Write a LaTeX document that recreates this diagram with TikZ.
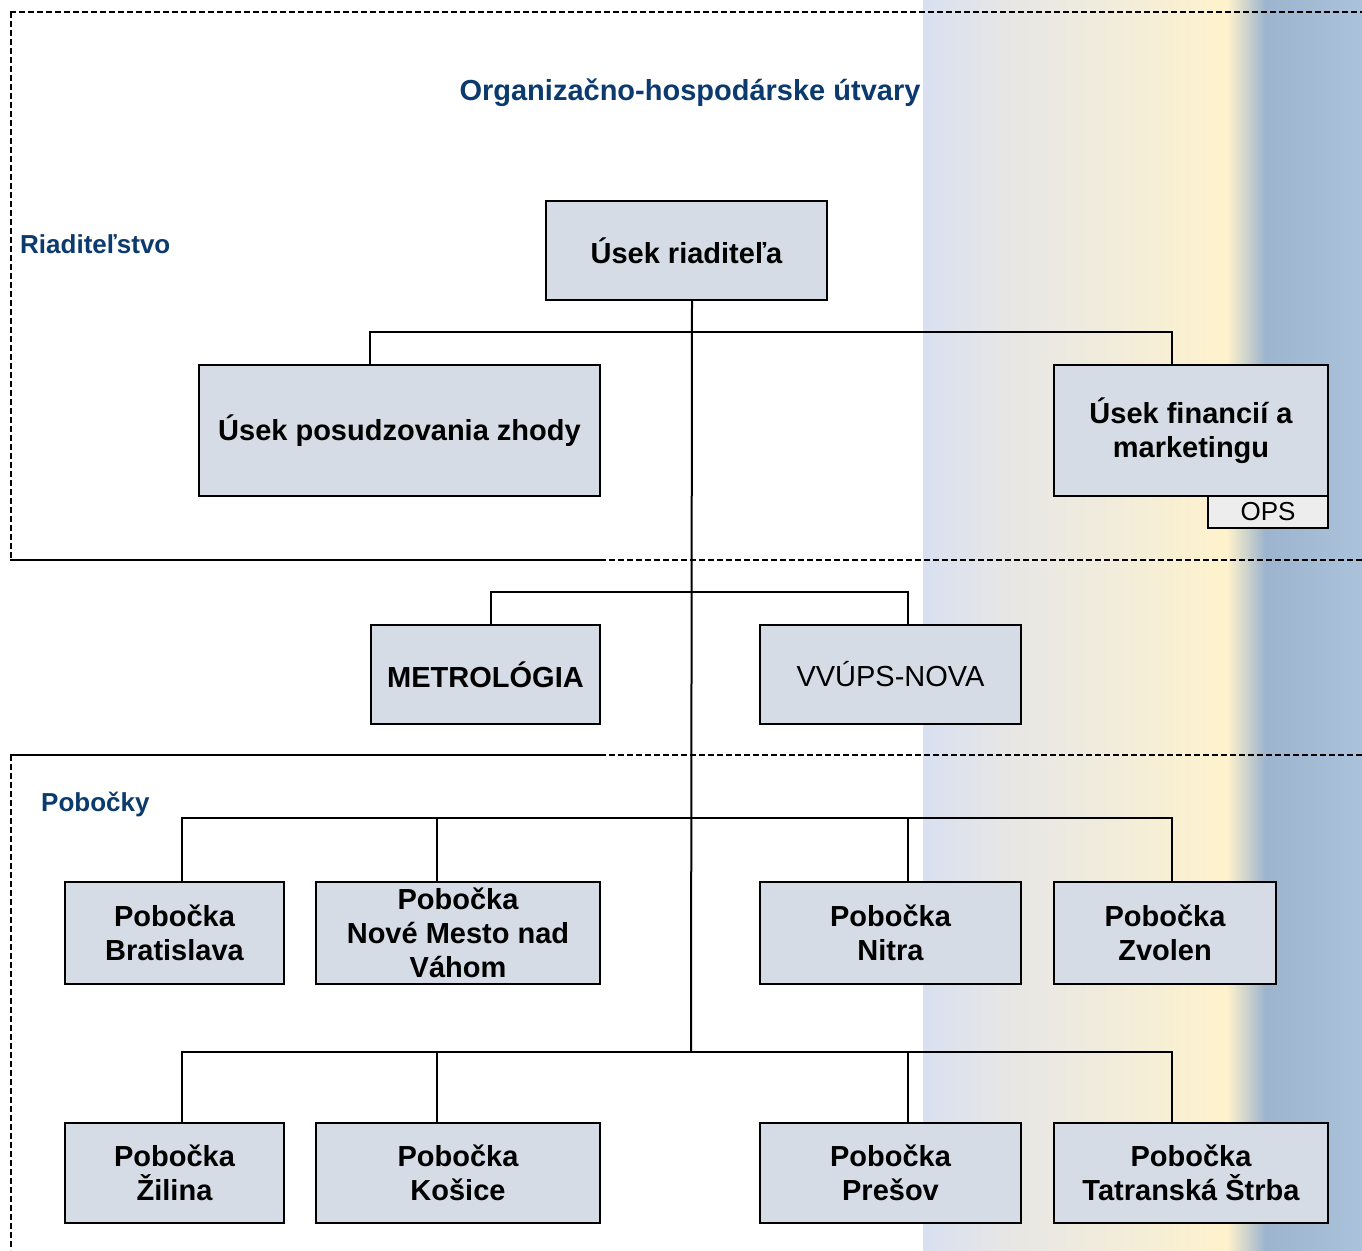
\documentclass[tikz,border=0pt]{standalone}
\usepackage{fontspec}
\setmainfont{Liberation Sans}
\usetikzlibrary{calc}
\definecolor{boxfill}{HTML}{D6DCE5}
\definecolor{opsfill}{HTML}{EDEDED}
\definecolor{navy}{HTML}{0B3A6E}
\definecolor{gA}{HTML}{D8E0F1}
\definecolor{gB}{HTML}{E6E6E6}
\definecolor{gC}{HTML}{F1ECDB}
\definecolor{gD}{HTML}{FFF2CC}
\definecolor{gE}{HTML}{9CB4CD}
\definecolor{gF}{HTML}{AAC3DB}
\begin{document}
\begin{tikzpicture}[x=1pt,y=-1pt,
  box/.style={draw=black, line width=2pt, fill=boxfill, inner sep=0pt, align=center,
    font=\fontsize{29}{34}\selectfont\bfseries, anchor=north west},
  rbox/.style={box, font=\fontsize{29}{34}\selectfont},
  opsbox/.style={draw=black, line width=2pt, fill=opsfill, inner sep=0pt, align=center,
    font=\fontsize{26}{30}\selectfont, anchor=north west},
  conn/.style={draw=black, line width=2pt},
  frame/.style={draw=black, line width=1.5pt, dash pattern=on 6pt off 3pt},
  solidframe/.style={draw=black, line width=2pt},
  ttl/.style={text=navy, font=\fontsize{29}{34}\selectfont\bfseries, inner sep=0pt},
  seclabel/.style={text=navy, font=\fontsize{26}{30}\selectfont\bfseries, inner sep=0pt, anchor=west}
]
\useasboundingbox (0,0) rectangle (1362,1250);
\fill[white] (0,0) rectangle (1362,1250);
% background gradient band
\shade[left color=gA, right color=gB] (923,0) rectangle (1000.5,1250);
\shade[left color=gB, right color=gC] (1000,0) rectangle (1110.5,1250);
\shade[left color=gC, right color=gD] (1110,0) rectangle (1227.5,1250);
\shade[left color=gD, right color=gE] (1227,0) rectangle (1265.5,1250);
\shade[left color=gE, right color=gF] (1265,0) rectangle (1362,1250);

% frames
\draw[frame] (10,12) -- (1362,12);
\draw[frame] (11,12) -- (11,560);
\draw[solidframe] (10,560) -- (600,560);
\draw[frame] (600,560) -- (1362,560);
\draw[solidframe] (10,755) -- (600,755);
\draw[frame] (600,755) -- (1362,755);
\draw[frame] (11,755) -- (11,1250);

% labels
\node[ttl] (title) at (690,93) {Organizačno-hospodárske útvary};
\node[seclabel] (riad) at (20,244) {Riaditeľstvo};
\node[seclabel] (pobl) at (41,804) {Pobočky};

% boxes
\node[box, minimum width=281pt, minimum height=99pt] (root) at (545,200) {Úsek riaditeľa};
\node[box, minimum width=401pt, minimum height=131pt] (pos) at (198,364) {Úsek posudzovania zhody};
\node[box, minimum width=274pt, minimum height=131pt] (fin) at (1053,364) {Úsek financií a\\marketingu};
\node[opsbox, minimum width=120pt, minimum height=32pt] (ops) at (1207,495) {OPS};
\node[box, minimum width=229pt, minimum height=99pt] (met) at (370,624) {METROLÓGIA};
\node[rbox, minimum width=261pt, minimum height=99pt] (vvu) at (759,624) {VVÚPS-NOVA};
\node[box, minimum width=219pt, minimum height=102pt] (bra) at (64,881) {Pobočka\\Bratislava};
\node[box, minimum width=284pt, minimum height=102pt] (nmv) at (315,881) {Pobočka\\Nové Mesto nad\\Váhom};
\node[box, minimum width=261pt, minimum height=102pt] (nit) at (759,881) {Pobočka\\Nitra};
\node[box, minimum width=222pt, minimum height=102pt] (zvo) at (1053,881) {Pobočka\\Zvolen};
\node[box, minimum width=219pt, minimum height=100pt] (zil) at (64,1122) {Pobočka\\Žilina};
\node[box, minimum width=284pt, minimum height=100pt] (kos) at (315,1122) {Pobočka\\Košice};
\node[box, minimum width=261pt, minimum height=100pt] (pre) at (759,1122) {Pobočka\\Prešov};
\node[box, minimum width=274pt, minimum height=100pt] (tat) at (1053,1122) {Pobočka\\Tatranská Štrba};

% connectors
\coordinate (tend) at (691,1052);
\draw[conn] ([xshift=5.5pt]root.south) -- (tend);
\draw[conn] ($(pos.north west)+(172,0)$) -- ++(0,-32) -| ($(fin.north west)+(119,0)$);
\draw[conn] ($(met.north west)+(121,0)$) -- ++(0,-32) -| ($(vvu.north west)+(149,0)$);
\draw[conn] ($(bra.north west)+(118,0)$) -- ++(0,-63) -| ($(zvo.north west)+(119,0)$);
\draw[conn] ($(nmv.north west)+(122,0)$) -- ++(0,-63);
\draw[conn] ($(nit.north west)+(149,0)$) -- ++(0,-63);
\draw[conn] ($(zil.north west)+(118,0)$) -- ++(0,-70) -| ($(tat.north west)+(119,0)$);
\draw[conn] ($(kos.north west)+(122,0)$) -- ++(0,-70);
\draw[conn] ($(pre.north west)+(149,0)$) -- ++(0,-70);
\end{tikzpicture}
\end{document}
